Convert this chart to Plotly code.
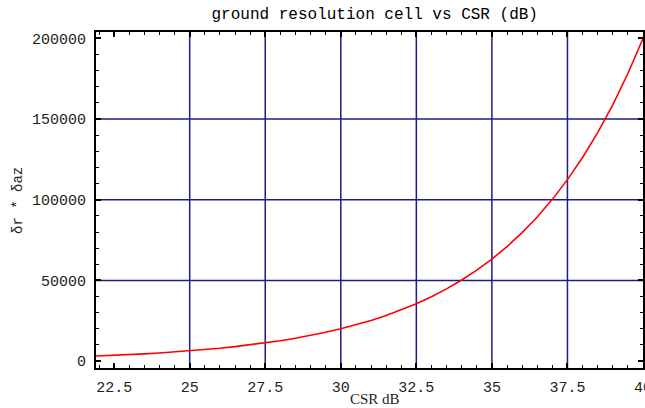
import plotly.graph_objects as go

# Values
csr_db = [21.9, 22, 22.5, 23, 23.5, 24, 24.5, 25, 25.5, 26, 26.5, 27, 27.5, 28, 28.5,
          29, 29.5, 30, 30.5, 31, 31.5, 32, 32.5, 33, 33.5, 34, 34.5, 35, 35.5, 36,
          36.5, 37, 37.5, 38, 38.5, 39, 39.5, 40]
cell_area = [3100, 3170, 3560, 3990, 4480, 5020, 5640, 6320, 7100, 7960, 8930, 10020,
             11250, 12620, 14160, 15890, 17830, 20000, 22440, 25180, 28250, 31700,
             35570, 39910, 44770, 50240, 56370, 63250, 70960, 79620, 89340, 100240,
             112470, 126190, 141590, 158870, 178250, 200000]

x_ticks = [22.5, 25, 27.5, 30, 32.5, 35, 37.5, 40]
x_tick_text = ["22.5", "25", "27.5", "30", "32.5", "35", "37.5", "40"]
y_ticks = [0, 50000, 100000, 150000, 200000]
y_tick_text = ["0", "50000", "100000", "150000", "200000"]
x_grid = [25, 27.5, 30, 32.5, 35, 37.5]
y_grid = [50000, 100000, 150000]

mono = "Liberation Mono, Courier New, monospace"
serif = "Liberation Serif, Times New Roman, serif"
grid_color = "#1c1c8a"
text_color = "#222222"

fig = go.Figure()
fig.add_trace(go.Scatter(x=csr_db, y=cell_area, mode="lines",
                         line=dict(color="#ff0000", width=1.6), showlegend=False))

shapes = []
for gx in x_grid:
    shapes.append(dict(type="line", xref="x", yref="paper", x0=gx, x1=gx, y0=0, y1=1,
                       line=dict(color=grid_color, width=1.5), layer="below"))
for gy in y_grid:
    shapes.append(dict(type="line", xref="paper", yref="y", x0=0, x1=1, y0=gy, y1=gy,
                       line=dict(color=grid_color, width=1.5), layer="below"))

annotations = [
    dict(text="CSR dB", xref="paper", yref="paper", x=0.51, y=-0.092,
         xanchor="center", yanchor="middle", showarrow=False,
         font=dict(family=serif, size=15, color=text_color)),
    dict(text="δr * δaz", xref="paper", yref="paper", x=-0.1426, y=0.5,
         xanchor="center", yanchor="middle", showarrow=False, textangle=-90,
         font=dict(family=mono, size=14, color=text_color)),
]

fig.update_layout(
    width=645, height=408,
    margin=dict(l=96, r=2, t=32, b=40, autoexpand=False),
    paper_bgcolor="white", plot_bgcolor="white",
    title=dict(text="ground resolution cell vs CSR (dB)", x=0.581, xanchor="center",
               xref="container", y=0.966, yanchor="middle",
               font=dict(family=mono, size=16, color="black")),
    shapes=shapes,
    annotations=annotations,
    xaxis=dict(range=[21.9, 40], tickvals=x_ticks, ticktext=x_tick_text,
               automargin=False, ticklabeloverflow="allow",
               showgrid=False, zeroline=False, showline=True, linecolor="black",
               linewidth=2, mirror="allticks", ticks="inside", ticklen=5,
               tickwidth=1.5, tickcolor="black", ticklabelstandoff=4,
               minor=dict(dtick=0.5, tick0=0, ticks="inside", ticklen=3,
                          tickcolor="black", tickwidth=1),
               tickfont=dict(family=mono, size=15, color=text_color)),
    yaxis=dict(range=[-4300, 204000], tickvals=y_ticks, ticktext=y_tick_text,
               automargin=False,
               showgrid=False, zeroline=False, showline=True, linecolor="black",
               linewidth=2, mirror="allticks", ticks="inside", ticklen=5,
               tickwidth=1.5, tickcolor="black", ticklabelstandoff=5,
               minor=dict(dtick=10000, tick0=0, ticks="inside", ticklen=3,
                          tickcolor="black", tickwidth=1),
               tickfont=dict(family=mono, size=15, color=text_color)),
)

fig.write_html("out.html",
               config={"displayModeBar": False},
               post_script="document.body.style.margin='0';"
                           "document.body.style.overflow='hidden';"
                           "document.documentElement.style.overflow='hidden';")
